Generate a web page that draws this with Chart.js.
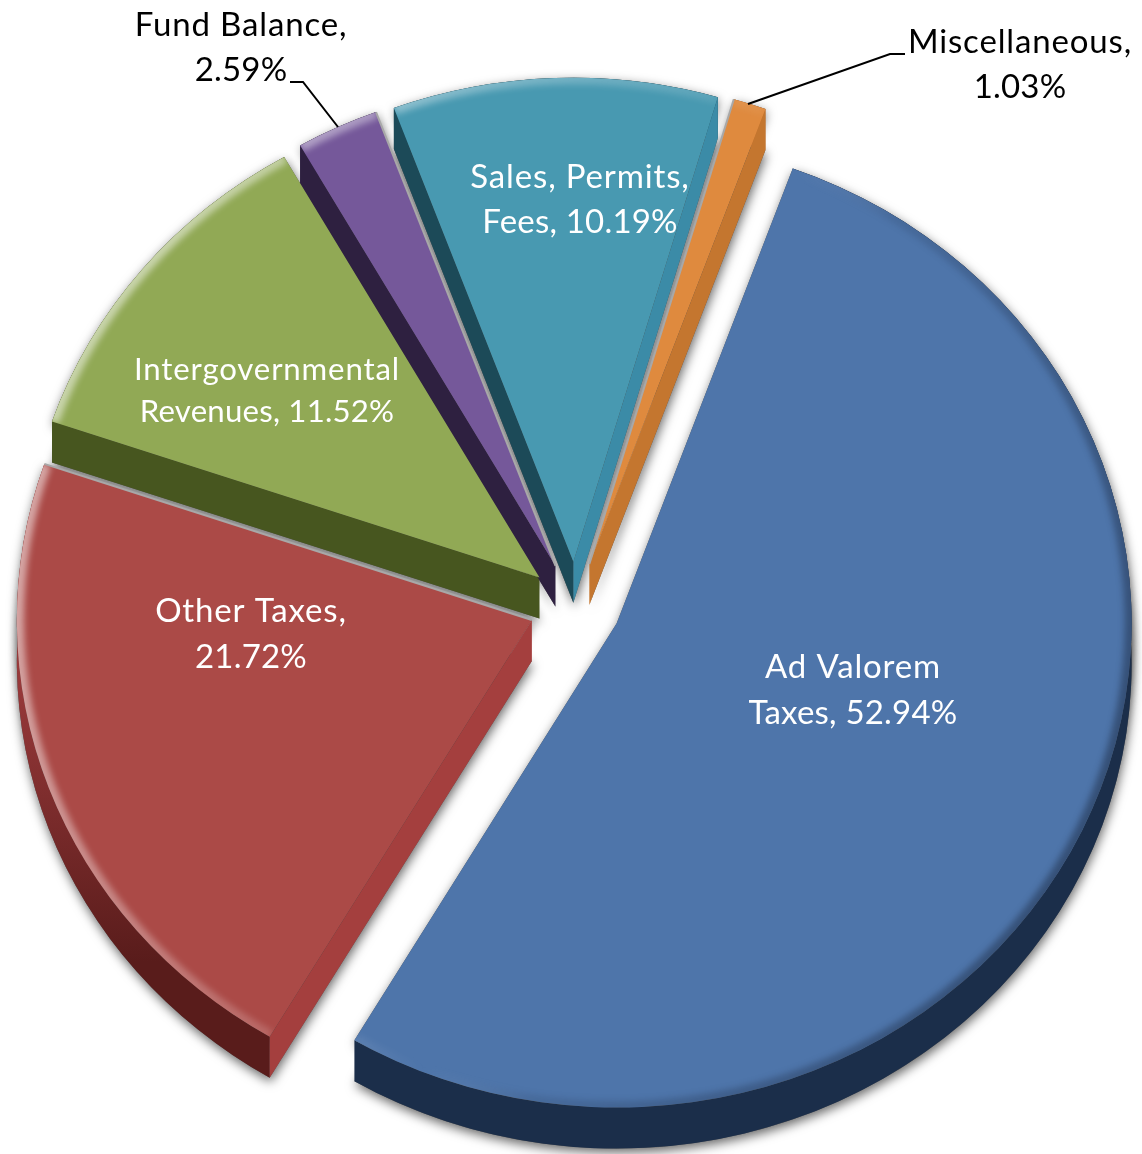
<!DOCTYPE html>
<html lang="en">
<head>
    <meta charset="UTF-8">
    <title>Revenue Sources</title>
    <script src="https://cdn.jsdelivr.net/npm/chart.js"></script>
    <style>
        body { margin: 0; background: #fff; }
        canvas { display: block; }
    </style>
</head>
<body>
    <canvas id="revenuePie" width="1142" height="1154"></canvas>

    <script>
        const categories = ['Ad Valorem Taxes', 'Other Taxes', 'Intergovernmental Revenues', 'Fund Balance', 'Sales, Permits, Fees', 'Miscellaneous'];
        const shares = [52.94, 21.72, 11.52, 2.59, 10.19, 1.03];

        // label text is split in two lines, the second one ends with the share
        const labelFirstLine = ['Ad Valorem', 'Other Taxes,', 'Intergovernmental', 'Fund Balance,', 'Sales, Permits,', 'Miscellaneous,'];
        const labelSecondLine = ['Taxes, ', '', 'Revenues, ', '', 'Fees, ', ''];

        const topColors = ['#4e75aa', '#ab4a47', '#91a955', '#75589a', '#4899b1', '#df8a3e'];
        const rimWallUpperColors = ['#1b2e4a', '#98393a', '#47561f', '#2e2040', '#1c4a58', '#b8692a'];
        const rimWallLowerColors = ['#1b2e4a', '#591c1b', '#47561f', '#2e2040', '#1c4a58', '#b8692a'];
        const startWallColors = ['#1b2e4a', '#a43f3e', '#47561f', '#2e2040', '#1c4a58', '#b8692a'];
        const endWallColors = ['#1b2e4a', '#5d1f1d', '#47561f', '#2e2040', '#3b8ba7', '#c4762f'];

        const labelCenters = [[853, 667, 713], [251, 611, 657], [267, 370, 412], [241, 25, 70], [580, 177, 222], [1020, 42, 87]];
        const labelColors = ['#fff', '#fff', '#fff', '#000', '#fff', '#000'];
        const labelSizes = [33, 33, 31.2, 33, 33, 33];
        const leaderLines = [
            [[290, 82], [303, 82], [338, 127]],
            [[748, 104], [890, 54], [905, 54]]
        ];

        const pieX = 575, pieY = 605;
        const squash = 0.94;
        const explode = 46;
        const depth = 41 / squash;

        function sliceGeometry(arc) {
            const p = arc.getProps(['x', 'y', 'startAngle', 'endAngle', 'outerRadius']);
            const mid = (p.startAngle + p.endAngle) / 2;
            p.ax = p.x + Math.cos(mid) * explode;
            p.ay = p.y + Math.sin(mid) * explode;
            return p;
        }

        function rimPoint(g, angle, dy) {
            return [g.ax + Math.cos(angle) * g.outerRadius, g.ay + Math.sin(angle) * g.outerRadius + dy];
        }

        function wedgePath(ctx, g, dy) {
            ctx.beginPath();
            ctx.moveTo(g.ax, g.ay + dy);
            ctx.arc(g.ax, g.ay + dy, g.outerRadius, g.startAngle, g.endAngle);
            ctx.closePath();
        }

        function fillCutWall(ctx, g, angle, color) {
            const a = rimPoint(g, angle, 0), b = rimPoint(g, angle, depth);
            ctx.fillStyle = color;
            ctx.beginPath();
            ctx.moveTo(g.ax, g.ay);
            ctx.lineTo(a[0], a[1]);
            ctx.lineTo(b[0], b[1]);
            ctx.lineTo(g.ax, g.ay + depth);
            ctx.closePath();
            ctx.fill();
        }

        function drawWalls(ctx, g, i) {
            const wall = ctx.createLinearGradient(0, g.y + 80, 0, g.y + 380);
            wall.addColorStop(0, rimWallUpperColors[i]);
            wall.addColorStop(1, rimWallLowerColors[i]);
            ctx.fillStyle = wall;
            ctx.beginPath();
            ctx.arc(g.ax, g.ay, g.outerRadius, g.startAngle, g.endAngle);
            ctx.arc(g.ax, g.ay + depth, g.outerRadius, g.endAngle, g.startAngle, true);
            ctx.closePath();
            ctx.fill();
            // a cut side only shows when it faces down
            if (Math.cos(g.startAngle) < 0) fillCutWall(ctx, g, g.startAngle, startWallColors[i]);
            if (Math.cos(g.endAngle) > 0) fillCutWall(ctx, g, g.endAngle, endWallColors[i]);
        }

        // soft bevel along the outer edge, light on the left, dark on the right
        function drawBevel(ctx, g) {
            const shade = ctx.createLinearGradient(g.x - 515, g.y - 100, g.x + 515, g.y + 300);
            shade.addColorStop(0, 'rgba(255,255,255,0.5)');
            shade.addColorStop(0.36, 'rgba(255,255,255,0.16)');
            shade.addColorStop(0.5, 'rgba(255,255,255,0)');
            shade.addColorStop(0.6, 'rgba(20,30,50,0.12)');
            shade.addColorStop(1, 'rgba(20,30,50,0.45)');
            ctx.save();
            wedgePath(ctx, g, 0);
            ctx.clip();
            ctx.filter = 'blur(3px)';
            ctx.strokeStyle = shade;
            ctx.lineWidth = 14;
            ctx.beginPath();
            ctx.arc(g.ax, g.ay, g.outerRadius, g.startAngle, g.endAngle);
            ctx.stroke();
            ctx.restore();
        }

        // thin grey edges where one slice sits right against its neighbour
        function drawContactEdge(ctx, g, angle) {
            const a = rimPoint(g, angle, 0);
            ctx.strokeStyle = '#a8a8a8';
            ctx.lineWidth = 2;
            ctx.beginPath();
            ctx.moveTo(g.ax, g.ay);
            ctx.lineTo(a[0], a[1]);
            ctx.stroke();
        }

        const explodedPie = {
            id: 'explodedPie',
            beforeDatasetDraw(chart) {
                const ctx = chart.ctx;
                const arcs = chart.getDatasetMeta(0).data;
                const geo = arcs.map(sliceGeometry);

                ctx.save();
                ctx.translate(pieX, pieY);
                ctx.scale(1, squash);
                ctx.translate(-geo[0].x, -geo[0].y);

                // drop shadow first so that it stays behind every slice
                ctx.save();
                ctx.shadowColor = 'rgba(0,0,0,0.6)';
                ctx.shadowBlur = 11;
                ctx.shadowOffsetX = 1;
                ctx.shadowOffsetY = 4;
                ctx.fillStyle = '#555';
                geo.forEach(g => {
                    wedgePath(ctx, g, depth);
                    ctx.fill();
                    wedgePath(ctx, g, 0);
                    ctx.fill();
                });
                ctx.restore();

                geo.forEach((g, i) => drawWalls(ctx, g, i));

                arcs.forEach((arc, i) => {
                    const g = geo[i];
                    ctx.save();
                    ctx.translate(g.ax - g.x, g.ay - g.y);
                    arc.draw(ctx);
                    ctx.restore();
                    drawBevel(ctx, g);
                });

                drawContactEdge(ctx, geo[1], geo[1].endAngle);
                drawContactEdge(ctx, geo[3], geo[3].endAngle);
                drawContactEdge(ctx, geo[5], geo[5].startAngle);

                ctx.restore();
                return false; // slices are already drawn, each at its own exploded position
            },
            afterDraw(chart) {
                const ctx = chart.ctx;
                ctx.save();
                ctx.textAlign = 'center';
                ctx.textBaseline = 'middle';
                shares.forEach((share, i) => {
                    const pos = labelCenters[i];
                    ctx.font = labelSizes[i] + 'px Lato, "Open Sans", sans-serif';
                    ctx.fillStyle = labelColors[i];
                    ctx.letterSpacing = '0.85px';
                    ctx.fillText(labelFirstLine[i], pos[0], pos[1]);
                    ctx.letterSpacing = '0.2px';
                    ctx.fillText(labelSecondLine[i] + share.toFixed(2) + '%', pos[0], pos[2]);
                });

                ctx.strokeStyle = '#000';
                ctx.lineWidth = 2;
                leaderLines.forEach(line => {
                    ctx.beginPath();
                    line.forEach((pt, n) => n ? ctx.lineTo(pt[0], pt[1]) : ctx.moveTo(pt[0], pt[1]));
                    ctx.stroke();
                });
                ctx.restore();
            }
        };

        new Chart(document.getElementById('revenuePie'), {
            type: 'pie',
            plugins: [explodedPie],
            data: {
                labels: categories,
                datasets: [{
                    data: shares,
                    backgroundColor: topColors,
                    borderWidth: 0,
                    radius: 515
                }]
            },
            options: {
                responsive: false,
                animation: false,
                rotation: 20,
                plugins: {
                    legend: { display: false },
                    tooltip: { enabled: false }
                }
            }
        });
    </script>
</body>
</html>
